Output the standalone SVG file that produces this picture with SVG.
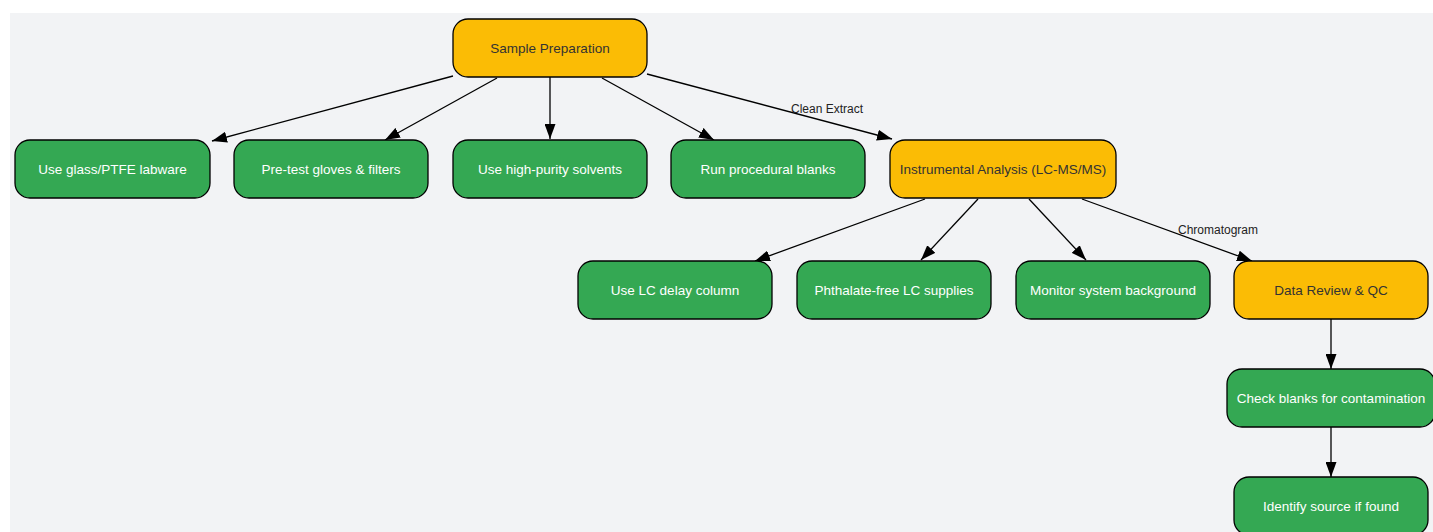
<svg xmlns="http://www.w3.org/2000/svg" width="1433" height="532" viewBox="0 0 1433 532">
<defs>
<marker id="arr" viewBox="0 0 15 11" refX="15" refY="5.5" markerWidth="15" markerHeight="11" markerUnits="userSpaceOnUse" orient="auto">
<path d="M0,0 L15,5.5 L0,11 Z" fill="#000"/>
</marker>
<style>
.n rect{stroke:#000;stroke-width:1.3}
.g rect{fill:#34a853}
.y rect{fill:#fbbc05}
.n text{font-family:"Liberation Sans",Arial,sans-serif;font-size:13.5px;text-anchor:middle;dominant-baseline:central}
.g text{fill:#fff}
.y text{fill:#333}
.e path{fill:none;stroke:#000;stroke-width:1.3;marker-end:url(#arr)}
.e text{font-family:"Liberation Sans",Arial,sans-serif;font-size:12px;fill:#222;text-anchor:middle;dominant-baseline:central}
</style>
</defs>
<rect x="10" y="13" width="1423" height="519" fill="#f2f3f5"/>
<g id="connectors" class="e">
<path d="M453,76 L212,141"/>
<path d="M497,78 L385,140"/>
<path d="M550,77 L550,139"/>
<path d="M602,78 L714,140"/>
<path d="M647,74 L892,139"/>
<text x="827" y="109">Clean Extract</text>
<path d="M925,199 L755,261"/>
<path d="M978,199 L921,260"/>
<path d="M1029,199 L1086,260"/>
<path d="M1082,199 L1252,261"/>
<text x="1218" y="230">Chromatogram</text>
<path d="M1331,319 L1331,369"/>
<path d="M1331,427 L1331,477"/>
</g>
<g id="sample-preparation" class="n y"><rect x="453" y="19" width="194" height="58" rx="15"/><text x="550" y="48">Sample Preparation</text></g>
<g id="use-glass" class="n g"><rect x="15" y="140" width="195" height="58" rx="15"/><text x="112.5" y="169">Use glass/PTFE labware</text></g>
<g id="pre-test" class="n g"><rect x="234" y="140" width="194" height="58" rx="15"/><text x="331" y="169">Pre-test gloves &amp; filters</text></g>
<g id="high-purity" class="n g"><rect x="453" y="140" width="194" height="58" rx="15"/><text x="550" y="169">Use high-purity solvents</text></g>
<g id="procedural-blanks" class="n g"><rect x="671" y="140" width="194" height="58" rx="15"/><text x="768" y="169">Run procedural blanks</text></g>
<g id="instrumental-analysis" class="n y"><rect x="890" y="140" width="226" height="58" rx="15"/><text x="1003" y="169">Instrumental Analysis (LC-MS/MS)</text></g>
<g id="delay-column" class="n g"><rect x="578" y="261" width="194" height="58" rx="15"/><text x="675" y="290">Use LC delay column</text></g>
<g id="phthalate-free" class="n g"><rect x="797" y="261" width="194" height="58" rx="15"/><text x="894" y="290">Phthalate-free LC supplies</text></g>
<g id="monitor-background" class="n g"><rect x="1016" y="261" width="194" height="58" rx="15"/><text x="1113" y="290">Monitor system background</text></g>
<g id="data-review" class="n y"><rect x="1234" y="261" width="194" height="58" rx="15"/><text x="1331" y="290">Data Review &amp; QC</text></g>
<g id="check-blanks" class="n g"><rect x="1227" y="369" width="208" height="58" rx="15"/><text x="1331" y="398">Check blanks for contamination</text></g>
<g id="identify-source" class="n g"><rect x="1234" y="477" width="194" height="58" rx="15"/><text x="1331" y="506">Identify source if found</text></g>
</svg>
